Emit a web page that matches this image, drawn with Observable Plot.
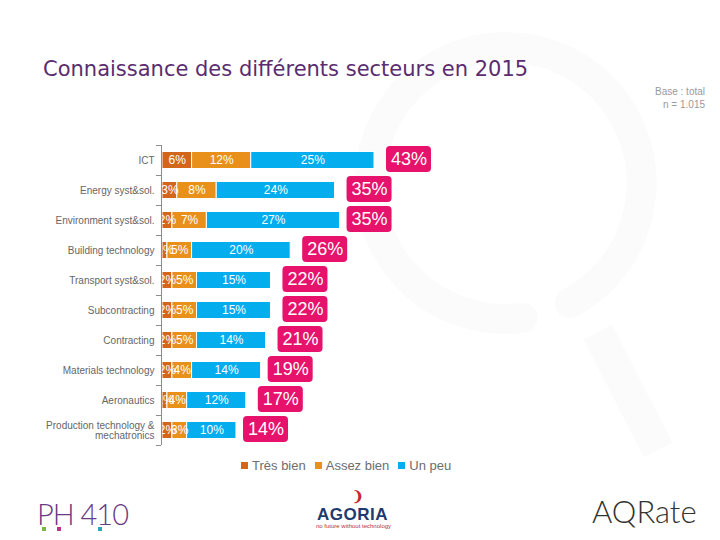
<!DOCTYPE html>
<html><head><meta charset="utf-8">
<script src="https://cdn.jsdelivr.net/npm/d3@7"></script>
<script src="https://cdn.jsdelivr.net/npm/@observablehq/plot@0.6"></script>
<style>
body{margin:0;width:720px;height:540px;position:relative;background:#fff;font-family:"Liberation Sans",Arial,sans-serif;overflow:hidden}
#bg{position:absolute;left:0;top:0}
#title{position:absolute;left:43px;top:57px;font-family:"DejaVu Sans",sans-serif;font-size:21px;color:#5b2c6f;white-space:nowrap}
#base{position:absolute;right:15px;top:85px;text-align:right;font-size:10px;color:#999;line-height:13px}
#chart{position:absolute;left:0;top:140px}
#legend{position:absolute;left:241px;top:458px;display:flex;align-items:center;font-size:13px;color:#6d6d6d}
#legend .it{display:flex;align-items:center;margin-right:9px}
#legend .sw{width:7px;height:7px;margin-right:4px}
.logo{position:absolute;white-space:nowrap}
</style></head>
<body>
<svg id="bg" width="720" height="540">
  <path d="M522.6 318 A136 136 0 1 1 569.8 303" fill="none" stroke="#fbfbfb" stroke-width="30" stroke-linecap="round"/>
  <line x1="598" y1="332" x2="658" y2="450" stroke="#fbfbfb" stroke-width="32"/>
</svg>
<div id="title">Connaissance des différents secteurs en 2015</div>
<div id="base">Base : total<br>n = 1.015</div>
<div id="chart"></div>
<div id="legend"></div>
<div class="logo" style="left:37px;top:496px;font-family:Lato,sans-serif;font-weight:300;font-size:29px;color:#6b3a86;letter-spacing:-1px">PH 410</div>
<div class="logo" style="left:42px;top:527px;width:4px;height:4px;background:#7ab648"></div>
<div class="logo" style="left:57px;top:527px;width:4px;height:4px;background:#c0338c"></div>
<div class="logo" style="left:98px;top:527px;width:4px;height:4px;background:#2aa6b8"></div>
<div class="logo" style="left:352px;top:488px;font-size:14px;font-weight:bold;color:#c8262e">❩</div>
<div class="logo" style="left:317px;top:505px;font-size:17px;font-weight:bold;color:#1f3a6e;letter-spacing:0.5px">AGORIA</div>
<div class="logo" style="left:316px;top:523px;font-size:6px;color:#b03030">no future without technology</div>
<div class="logo" style="left:592px;top:492px;font-family:Lato,sans-serif;font-weight:300;font-size:31px;color:#333">A<span style="color:#333">Q</span>Rate</div>
<script>
const categories = ["ICT","Energy syst&sol.","Environment syst&sol.","Building technology","Transport syst&sol.","Subcontracting","Contracting","Materials technology","Aeronautics","Production technology &\nmechatronics"];
const types = ["Très bien","Assez bien","Un peu"];
const tresBien = [6,3,2,1,2,2,2,2,1,2];
const assezBien = [12,8,7,5,5,5,5,4,4,3];
const unPeu = [25,24,27,20,15,15,14,14,12,10];
const totals = [43,35,35,26,22,22,21,19,17,14];
const colors = ["#d4661b","#e8901a","#03adee"];

const rows = categories.flatMap((c,i)=>[
  {cat:c,type:types[0],value:tresBien[i]},
  {cat:c,type:types[1],value:assezBien[i]},
  {cat:c,type:types[2],value:unPeu[i]}
]);
const totalRows = categories.map((c,i)=>({cat:c,total:totals[i]}));

const chart = Plot.plot({
  width:720, height:310, marginTop:5, marginBottom:5, marginLeft:162, marginRight:65,
  x:{domain:[0,100], axis:null},
  y:{domain:categories, padding:0, label:null},
  color:{domain:types, range:colors},
  style:{fontFamily:"Liberation Sans, Arial, sans-serif", background:"transparent"},
  marks:[
    Plot.barX(rows, {y:"cat", x:"value", fill:"type", stroke:"white", strokeWidth:1, insetTop:6.5, insetBottom:6.5}),
    Plot.text(rows, Plot.stackX({y:"cat", x:"value", z:"type", text:d=>d.value+"%", fill:"white", fontSize:12})),
    Plot.barX(totalRows, {y:"cat", x1:"total", x2:"total", insetLeft:12, insetRight:-57, insetTop:2, insetBottom:2, fill:"#e6126b", rx:4, dy:-1}),
    Plot.text(totalRows, {y:"cat", x:"total", text:d=>d.total+"%", dx:34.5, dy:-1, fill:"white", fontSize:18}),
    Plot.ruleX([0], {dx:-1, stroke:"#8c8c8c"}),
    Plot.ruleY(categories, {y:d=>d, x1:0, x2:0, insetLeft:-6, insetRight:1, dy:-15, stroke:"#8c8c8c"}),
    Plot.ruleY(categories.slice(-1), {y:d=>d, x1:0, x2:0, insetLeft:-6, insetRight:1, dy:15, stroke:"#8c8c8c"}),
    Plot.axisY({tickSize:0, tickPadding:8, fontSize:10, fill:"#666", label:null})
  ]
});
document.getElementById("chart").appendChild(chart);

const legend = document.getElementById("legend");
types.forEach((t,i)=>{
  const it = document.createElement("div"); it.className="it";
  const sw = document.createElement("div"); sw.className="sw"; sw.style.background=colors[i];
  const tx = document.createElement("span"); tx.textContent=t;
  it.appendChild(sw); it.appendChild(tx); legend.appendChild(it);
});
</script>
</body></html>
